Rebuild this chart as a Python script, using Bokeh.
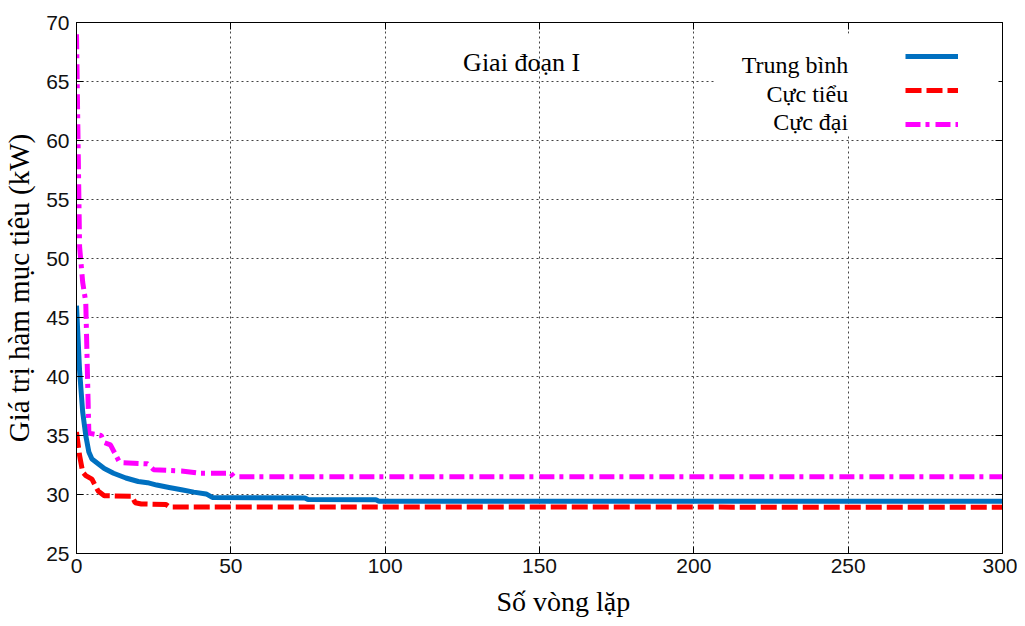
from bokeh.plotting import figure
from bokeh.models import (Range1d, FixedTicker, LinearAxis, Label, Legend, LegendItem,
                          BoxAnnotation, Title)
from bokeh.embed import file_html
from bokeh.resources import INLINE

# ---------------- data ----------------
mean_x = [0, 1, 2, 3, 4, 5, 7, 9, 12, 16, 20, 23, 26, 30, 34, 38, 42, 44, 74, 75, 97, 98, 300]
mean_y = [46.0, 40.5, 37.0, 35.0, 33.6, 33.0, 32.6, 32.2, 31.8, 31.4, 31.1, 31.0, 30.8,
          30.6, 30.4, 30.2, 30.05, 29.75, 29.7, 29.57, 29.55, 29.42, 29.42]

min_x = [0, 1, 2, 3, 5, 6, 7, 9, 18, 19, 21, 29, 30, 300]
min_y = [35.3, 33.3, 31.9, 31.6, 31.3, 30.8, 30.3, 29.9, 29.85, 29.3, 29.2, 29.15, 28.95, 28.92]

max_x = [0, 1, 2, 3, 4, 8, 9, 11, 13, 14, 23, 25, 34, 40, 50, 51, 300]
max_y = [69.0, 51.0, 48.0, 46.3, 35.2, 35.0, 34.4, 34.2, 33.2, 32.7, 32.6, 32.1, 32.0,
         31.8, 31.8, 31.5, 31.5]

x_ticks = [0, 50, 100, 150, 200, 250, 300]
y_ticks = [25, 30, 35, 40, 45, 50, 55, 60, 65, 70]

series_names = ["Trung bình", "Cực tiểu", "Cực đại"]
title_text = "Giai đoạn I"
x_title = "Số vòng lặp"
y_title = "Giá trị hàm mục tiêu (kW)"

# ---------------- figure ----------------
SERIF = "Liberation Serif"
SANS = "Liberation Sans"

p = figure(frame_width=926, frame_height=531,
           x_range=Range1d(0, 300), y_range=Range1d(25, 70),
           output_backend="svg", toolbar_location=None,
           min_border_left=76, min_border_top=22, min_border_right=15, min_border_bottom=70,
           background_fill_color="white", border_fill_color="white")
p.outline_line_color = "black"
p.outline_line_width = 1

# axes
for ax in (p.xaxis[0], p.yaxis[0]):
    ax.axis_line_color = "black"
    ax.major_tick_line_color = "black"
    ax.major_tick_in = 7
    ax.major_tick_out = 0
    ax.minor_tick_line_color = None
    ax.major_label_text_font = SANS
    ax.major_label_text_font_size = "21px"
    ax.major_label_text_color = "#111111"
p.xaxis[0].ticker = FixedTicker(ticks=x_ticks)
p.yaxis[0].ticker = FixedTicker(ticks=y_ticks)
p.xaxis[0].major_label_standoff = 5
p.yaxis[0].major_label_standoff = 7

p.yaxis[0].axis_label = y_title
p.yaxis[0].axis_label_text_font = SERIF
p.yaxis[0].axis_label_text_font_size = "29px"
p.yaxis[0].axis_label_text_font_style = "normal"
p.yaxis[0].axis_label_text_color = "black"
p.yaxis[0].axis_label_standoff = 8

# mirrored tick axes (top & right), ticks only
right_ax = LinearAxis(ticker=FixedTicker(ticks=y_ticks), major_tick_in=7, major_tick_out=0,
                      major_label_text_color=None, major_label_text_font_size="8px",
                      major_label_standoff=0,
                      minor_tick_line_color=None, axis_line_color="black")
top_ax = LinearAxis(ticker=FixedTicker(ticks=x_ticks), major_tick_in=7, major_tick_out=0,
                    major_label_text_color=None, major_label_text_font_size="8px",
                    major_label_standoff=0,
                    minor_tick_line_color=None, axis_line_color="black")
p.add_layout(right_ax, "right")
p.add_layout(top_ax, "above")

# grid
p.xgrid.ticker = FixedTicker(ticks=x_ticks)
p.ygrid.ticker = FixedTicker(ticks=y_ticks)
for g in (p.xgrid[0], p.ygrid[0]):
    g.grid_line_color = "#222222"
    g.grid_line_alpha = 0.85
    g.grid_line_dash = "2 3"
    g.grid_line_width = 1

# series
r_max = p.line(max_x, max_y, line_color="#FF00FF", line_width=5, line_dash="15 5 4 6")
r_min = p.line(min_x, min_y, line_color="#FF0000", line_width=5, line_dash="16 5")
r_mean = p.line(mean_x, mean_y, line_color="#0070C0", line_width=5)

# legend area (white box, labels on the left, glyphs on the right)
p.add_layout(BoxAnnotation(left=207, right=298.7, bottom=60.45, top=69.05,
                           fill_color="white", fill_alpha=1.0, line_color=None))
for name, yb in zip(series_names, [66.36, 63.98, 61.61]):
    p.add_layout(Label(x=250, y=yb, text=name, text_align="right",
                       text_baseline="alphabetic", text_font=SERIF,
                       text_font_size="24px", text_color="black"))

leg = Legend(items=[LegendItem(label=" ", renderers=[r_mean]),
                    LegendItem(label=" ", renderers=[r_min]),
                    LegendItem(label=" ", renderers=[r_max])],
             location=(829, 419), orientation="vertical",
             glyph_width=53, glyph_height=20, label_width=0, label_height=20,
             label_standoff=0, label_text_font_size="10px", label_text_color=None,
             spacing=14, padding=0, margin=0,
             background_fill_alpha=0, border_line_color=None)
p.add_layout(leg)

# chart title inside the plot
p.add_layout(Label(x=144.2, y=66.6, text=title_text, text_align="center",
                   text_baseline="alphabetic", text_font=SERIF,
                   text_font_size="26px", text_color="black"))

# x-axis title (slightly right of centre as in the reference)
p.add_layout(Title(text=x_title, align="left", offset=420, standoff=17,
                   text_font=SERIF, text_font_size="28px", text_font_style="normal",
                   text_color="black"), "below")

open("out.html", "w").write(file_html(p, INLINE))
